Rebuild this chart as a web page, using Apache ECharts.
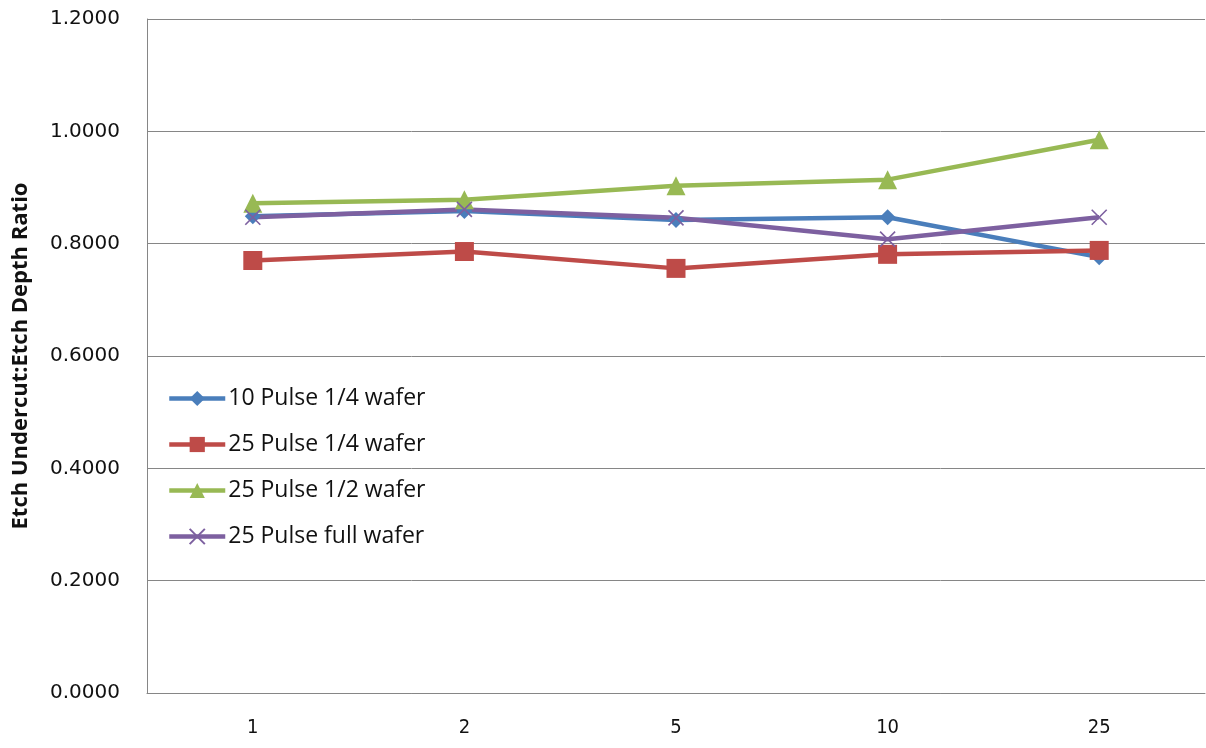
<!DOCTYPE html>
<html>
<head>
<meta charset="utf-8">
<script src="https://cdn.jsdelivr.net/npm/echarts@6/dist/echarts.min.js"></script>
<style>
  html, body { margin: 0; padding: 0; background: #fff; }
  #chart { width: 1206px; height: 748px; }
</style>
</head>
<body>
<div id="chart"></div>
<script>
// Pulse count categories along the x axis
const categories = ['1', '2', '5', '10', '25'];

// Undercut-to-depth ratio per wafer configuration
const pulse10Quarter = [0.849, 0.858, 0.842, 0.847, 0.776];
const pulse25Quarter = [0.770, 0.786, 0.756, 0.781, 0.788];
const pulse25Half    = [0.872, 0.878, 0.903, 0.914, 0.985];
const pulse25Full    = [0.847, 0.861, 0.846, 0.808, 0.847];

const seriesNames = ['10 Pulse 1/4 wafer', '25 Pulse 1/4 wafer', '25 Pulse 1/2 wafer', '25 Pulse full wafer'];

const crossPath = 'path://M0,0 L10,10 M10,0 L0,10';

function lineSeries(name, data, color, symbol, size, extraItem) {
  return {
    name: name,
    type: 'line',
    data: data,
    symbol: symbol,
    symbolSize: size,
    showAllSymbol: true,
    lineStyle: { color: color, width: 4.5 },
    itemStyle: Object.assign({ color: color }, extraItem || {}),
    emphasis: { disabled: true },
    animation: false
  };
}

const chart = echarts.init(document.getElementById('chart'), null, { renderer: 'canvas' });

chart.setOption({
  backgroundColor: '#ffffff',
  animation: false,
  grid: { left: 147, right: 1, top: 19, bottom: 55, containLabel: false, outerBoundsMode: 'none' },
  legend: {
    orient: 'vertical',
    left: 167,
    top: 387,
    padding: 0,
    itemWidth: 56,
    itemHeight: 19,
    itemGap: 23,
    lineStyle: { width: 4.5 },
    textStyle: { fontFamily: '"Open Sans", "Liberation Sans", sans-serif', fontSize: 23, color: '#111', lineHeight: 20, padding: [0, 0, 0, -2] },
    data: seriesNames
  },
  xAxis: {
    type: 'category',
    data: categories,
    boundaryGap: true,
    axisLine: { show: true, lineStyle: { color: '#868686', width: 1 } },
    axisTick: { show: false },
    axisLabel: {
      color: '#111',
      fontFamily: '"Liberation Sans Narrow", "DejaVu Sans Condensed", sans-serif',
      fontSize: 20,
      margin: 25
    },
    splitLine: { show: false }
  },
  yAxis: {
    type: 'value',
    min: 0,
    max: 1.2,
    interval: 0.2,
    name: 'Etch Undercut:Etch Depth Ratio',
    nameLocation: 'middle',
    nameGap: 115,
    nameRotate: 90,
    nameTextStyle: {
      fontFamily: '"Liberation Sans Narrow", "Open Sans", sans-serif',
      fontWeight: 'bold',
      fontSize: 22,
      color: '#111'
    },
    axisLine: { show: true, lineStyle: { color: '#868686', width: 1 } },
    axisTick: { show: false },
    axisLabel: {
      color: '#111',
      fontFamily: '"DejaVu Sans", sans-serif',
      fontSize: 20,
      margin: 27,
      formatter: function (v) { return v.toFixed(4); }
    },
    splitLine: { show: true, lineStyle: { color: '#868686', width: 1 } }
  },
  series: [
    lineSeries(seriesNames[0], pulse10Quarter, '#4A7EBB', 'diamond', 16),
    lineSeries(seriesNames[1], pulse25Quarter, '#BE4B48', 'rect', 19),
    lineSeries(seriesNames[2], pulse25Half, '#98B954', 'triangle', 19),
    lineSeries(seriesNames[3], pulse25Full, '#7D60A0', crossPath, 15, { borderColor: '#7D60A0', borderWidth: 1.6 })
  ]
});
</script>
</body>
</html>
